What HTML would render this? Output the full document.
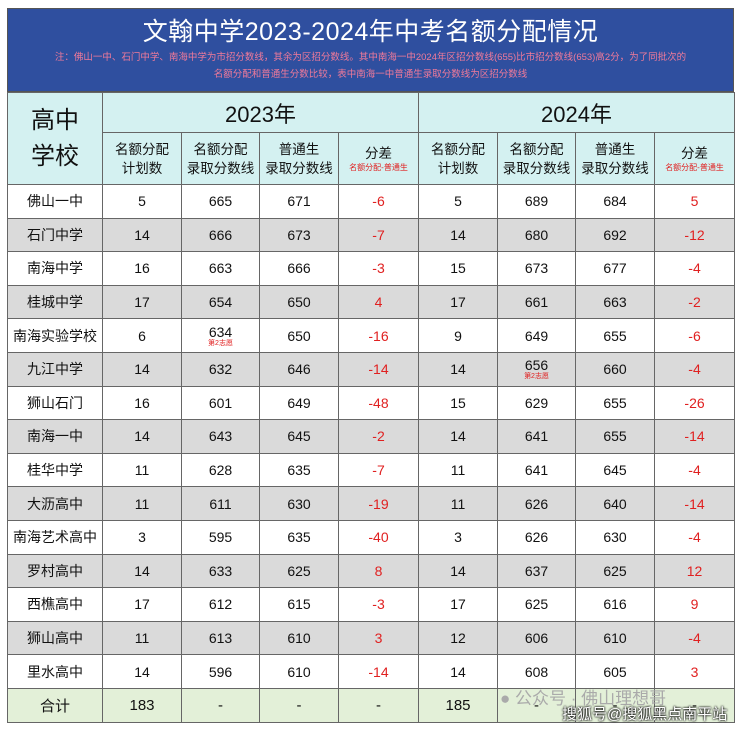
<!DOCTYPE html>
<html><head><meta charset="utf-8"><style>
body{margin:0;background:#fff;width:740px;height:729px;overflow:hidden;font-family:"Liberation Sans","Noto Sans CJK SC",sans-serif;}
.wrap{position:absolute;left:7px;top:8px;width:727px;}
.hd{background:#2f4f9f;height:84px;border:1px solid #555;box-sizing:border-box;text-align:center;color:#fff;}
.hd .t{font-size:25px;padding-top:8px;line-height:30px;letter-spacing:0.5px}
.hd .n{font-size:9.5px;color:#f07a9a;line-height:17px;margin-top:2px}
table{border-collapse:collapse;width:727px;table-layout:fixed;}
td{border:1px solid #666;text-align:center;font-size:14px;color:#111;padding:0;}
.yr td{background:#d4f1f1}
.red{color:#e02020}
.g td{background:#dadada}
.w td{background:#fff}
.sub{font-size:13.5px;line-height:19px}
.sm{font-size:8px;color:#e02020;display:block;line-height:10px}
.tot td{background:#e3f0d8;font-size:15px}
.small{font-size:7px;color:#e02020;display:block;line-height:8px}
</style></head><body>
<div class="wrap">
<div class="hd"><div class="t">文翰中学2023-2024年中考名额分配情况</div>
<div class="n">注：佛山一中、石门中学、南海中学为市招分数线，其余为区招分数线。其中南海一中2024年区招分数线(655)比市招分数线(653)高2分，为了同批次的<br>名额分配和普通生分数比较，表中南海一中普通生录取分数线为区招分数线</div></div>
<table>
<colgroup><col style="width:95px"><col style="width:79px"><col style="width:78px"><col style="width:79px"><col style="width:80px"><col style="width:79px"><col style="width:78px"><col style="width:79px"><col style="width:80px"></colgroup>
<tr class="yr" style="height:40px"><td rowspan="2" style="font-size:24px;line-height:36px">高中<br>学校</td><td colspan="4" style="font-size:22px">2023年</td><td colspan="4" style="font-size:22px">2024年</td></tr>
<tr class="yr" style="height:52px">
<td class="sub">名额分配<br>计划数</td><td class="sub">名额分配<br>录取分数线</td><td class="sub">普通生<br>录取分数线</td><td class="sub">分差<span class="sm">名额分配-普通生</span></td>
<td class="sub">名额分配<br>计划数</td><td class="sub">名额分配<br>录取分数线</td><td class="sub">普通生<br>录取分数线</td><td class="sub">分差<span class="sm">名额分配-普通生</span></td></tr>
<tr class="w" style="height:33.6px"><td>佛山一中</td><td>5</td><td>665</td><td>671</td><td class="red">-6</td><td>5</td><td>689</td><td>684</td><td class="red">5</td></tr>
<tr class="g" style="height:33.6px"><td>石门中学</td><td>14</td><td>666</td><td>673</td><td class="red">-7</td><td>14</td><td>680</td><td>692</td><td class="red">-12</td></tr>
<tr class="w" style="height:33.6px"><td>南海中学</td><td>16</td><td>663</td><td>666</td><td class="red">-3</td><td>15</td><td>673</td><td>677</td><td class="red">-4</td></tr>
<tr class="g" style="height:33.6px"><td>桂城中学</td><td>17</td><td>654</td><td>650</td><td class="red">4</td><td>17</td><td>661</td><td>663</td><td class="red">-2</td></tr>
<tr class="w" style="height:33.6px"><td>南海实验学校</td><td>6</td><td>634<span class="small">第2志愿</span></td><td>650</td><td class="red">-16</td><td>9</td><td>649</td><td>655</td><td class="red">-6</td></tr>
<tr class="g" style="height:33.6px"><td>九江中学</td><td>14</td><td>632</td><td>646</td><td class="red">-14</td><td>14</td><td>656<span class="small">第2志愿</span></td><td>660</td><td class="red">-4</td></tr>
<tr class="w" style="height:33.6px"><td>狮山石门</td><td>16</td><td>601</td><td>649</td><td class="red">-48</td><td>15</td><td>629</td><td>655</td><td class="red">-26</td></tr>
<tr class="g" style="height:33.6px"><td>南海一中</td><td>14</td><td>643</td><td>645</td><td class="red">-2</td><td>14</td><td>641</td><td>655</td><td class="red">-14</td></tr>
<tr class="w" style="height:33.6px"><td>桂华中学</td><td>11</td><td>628</td><td>635</td><td class="red">-7</td><td>11</td><td>641</td><td>645</td><td class="red">-4</td></tr>
<tr class="g" style="height:33.6px"><td>大沥高中</td><td>11</td><td>611</td><td>630</td><td class="red">-19</td><td>11</td><td>626</td><td>640</td><td class="red">-14</td></tr>
<tr class="w" style="height:33.6px"><td>南海艺术高中</td><td>3</td><td>595</td><td>635</td><td class="red">-40</td><td>3</td><td>626</td><td>630</td><td class="red">-4</td></tr>
<tr class="g" style="height:33.6px"><td>罗村高中</td><td>14</td><td>633</td><td>625</td><td class="red">8</td><td>14</td><td>637</td><td>625</td><td class="red">12</td></tr>
<tr class="w" style="height:33.6px"><td>西樵高中</td><td>17</td><td>612</td><td>615</td><td class="red">-3</td><td>17</td><td>625</td><td>616</td><td class="red">9</td></tr>
<tr class="g" style="height:33.6px"><td>狮山高中</td><td>11</td><td>613</td><td>610</td><td class="red">3</td><td>12</td><td>606</td><td>610</td><td class="red">-4</td></tr>
<tr class="w" style="height:33.6px"><td>里水高中</td><td>14</td><td>596</td><td>610</td><td class="red">-14</td><td>14</td><td>608</td><td>605</td><td class="red">3</td></tr>
<tr class="tot" style="height:34px"><td>合计</td><td>183</td><td>-</td><td>-</td><td>-</td><td>185</td><td>-</td><td>-</td><td>-</td></tr>
</table>
</div>
<div style="position:absolute;left:500px;top:684px;font-size:17px;color:#aaa">● 公众号 · 佛山理想哥</div>
<div style="position:absolute;left:562px;top:703px;font-size:15px;color:#fff;text-shadow:0 0 2px #000,0 0 2px #000">搜狐号@搜狐黑点南平站</div>
</body></html>
